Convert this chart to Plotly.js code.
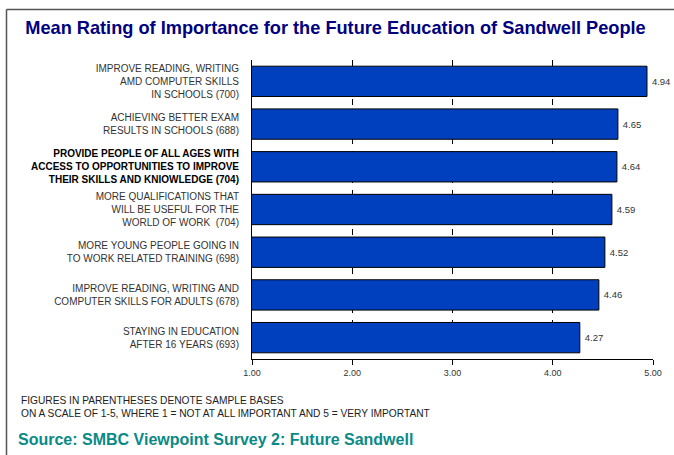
<!DOCTYPE html>
<html>
<head>
<meta charset="utf-8">
<script src="https://cdn.plot.ly/plotly-3.0.1.min.js"></script>
<style>html,body{margin:0;padding:0;background:#fff;}#chart{width:674px;height:455px;}</style>
</head>
<body>
<div id="chart"></div>
<script>
var categories = [
  'IMPROVE READING, WRITING<br>AMD COMPUTER SKILLS<br>IN SCHOOLS (700)',
  'ACHIEVING BETTER EXAM<br>RESULTS IN SCHOOLS (688)',
  '<span style="color:#000"><b>PROVIDE PEOPLE OF ALL AGES WITH<br>ACCESS TO OPPORTUNITIES TO IMPROVE<br>THEIR SKILLS AND KNIOWLEDGE (704)</b></span>',
  'MORE QUALIFICATIONS THAT<br>WILL BE USEFUL FOR THE<br>WORLD OF WORK  (704)',
  'MORE YOUNG PEOPLE GOING IN<br>TO WORK RELATED TRAINING (698)',
  'IMPROVE READING, WRITING AND<br>COMPUTER SKILLS FOR ADULTS (678)',
  'STAYING IN EDUCATION<br>AFTER 16 YEARS (693)'
];
var meanRatings = [4.94, 4.65, 4.64, 4.59, 4.52, 4.46, 4.27];
var xTickValues = [1, 2, 3, 4, 5];

var titleText = 'Mean Rating of Importance for the Future Education of Sandwell People';
var noteText = 'FIGURES IN PARENTHESES DENOTE SAMPLE BASES<br>ON A SCALE OF 1-5, WHERE 1 = NOT AT ALL IMPORTANT AND 5 = VERY IMPORTANT';
var sourceText = 'Source: SMBC Viewpoint Survey 2: Future Sandwell';

var W = 674, H = 455;
var L = 252, R = 21, T = 60, B = 96;
var pw = W - L - R, ph = H - T - B;
function px(x) { return (x - L) / pw; }
function py(y) { return (H - B - y) / ph; }

var trace = {
  type: 'bar',
  orientation: 'h',
  x: meanRatings,
  y: categories,
  marker: { color: '#0040BF', line: { color: '#000', width: 1 } },
  texttemplate: '\u2009%{x:.2f}',
  textposition: 'outside',
  textfont: { family: 'Liberation Sans, Arial, sans-serif', size: 9.5, color: '#333' },
  cliponaxis: false,
  hoverinfo: 'skip'
};

var layout = {
  width: W, height: H,
  margin: { l: L, r: R, t: T, b: B, pad: 0 },
  paper_bgcolor: '#fff',
  plot_bgcolor: '#fff',
  showlegend: false,
  bargap: 0.29,
  font: { family: 'Liberation Sans, Arial, sans-serif', size: 10, color: '#333' },
  title: {
    text: '<b>' + titleText + '</b>',
    font: { family: 'Liberation Sans, Arial, sans-serif', size: 18.2, color: '#000080' },
    xref: 'container', yref: 'container',
    x: 335.5 / W, y: 1 - 28 / H,
    xanchor: 'center', yanchor: 'middle'
  },
  xaxis: {
    range: [1, 5],
    tickvals: xTickValues,
    tickformat: '.2f',
    ticks: 'outside', ticklen: 5, tickcolor: '#000', tickwidth: 1,
    showline: true, linecolor: '#000', linewidth: 1,
    showgrid: true, gridcolor: '#000', gridwidth: 1, griddash: '6px,7px',
    zeroline: false,
    tickfont: { family: 'Liberation Sans, Arial, sans-serif', size: 9, color: '#333' },
    fixedrange: true
  },
  yaxis: {
    autorange: 'reversed',
    type: 'category',
    showline: true, linecolor: '#000', linewidth: 1,
    showgrid: false, zeroline: false,
    ticks: '', ticklabelstandoff: 10,
    tickfont: { family: 'Liberation Sans, Arial, sans-serif', size: 10, color: '#333' },
    fixedrange: true
  },
  shapes: [
    { type: 'line', xref: 'paper', yref: 'paper', x0: px(6.5), x1: px(6.5), y0: py(9.5), y1: py(460), line: { color: '#555', width: 1.5 } },
    { type: 'line', xref: 'paper', yref: 'paper', x0: px(6.5), x1: px(680), y0: py(9.5), y1: py(9.5), line: { color: '#555', width: 1.5 } }
  ],
  annotations: [
    { xref: 'paper', yref: 'paper', x: px(19), y: py(407), xanchor: 'left', yanchor: 'middle', align: 'left',
      showarrow: false, text: noteText,
      font: { family: 'Liberation Sans, Arial, sans-serif', size: 10.2, color: '#222' } },
    { xref: 'paper', yref: 'paper', x: px(16), y: py(439), xanchor: 'left', yanchor: 'middle', align: 'left',
      showarrow: false, text: '<b>' + sourceText + '</b>',
      font: { family: 'Liberation Sans, Arial, sans-serif', size: 16, color: '#0A8A86' } }
  ]
};

Plotly.newPlot('chart', [trace], layout, { displayModeBar: false, staticPlot: true });
</script>
</body>
</html>
